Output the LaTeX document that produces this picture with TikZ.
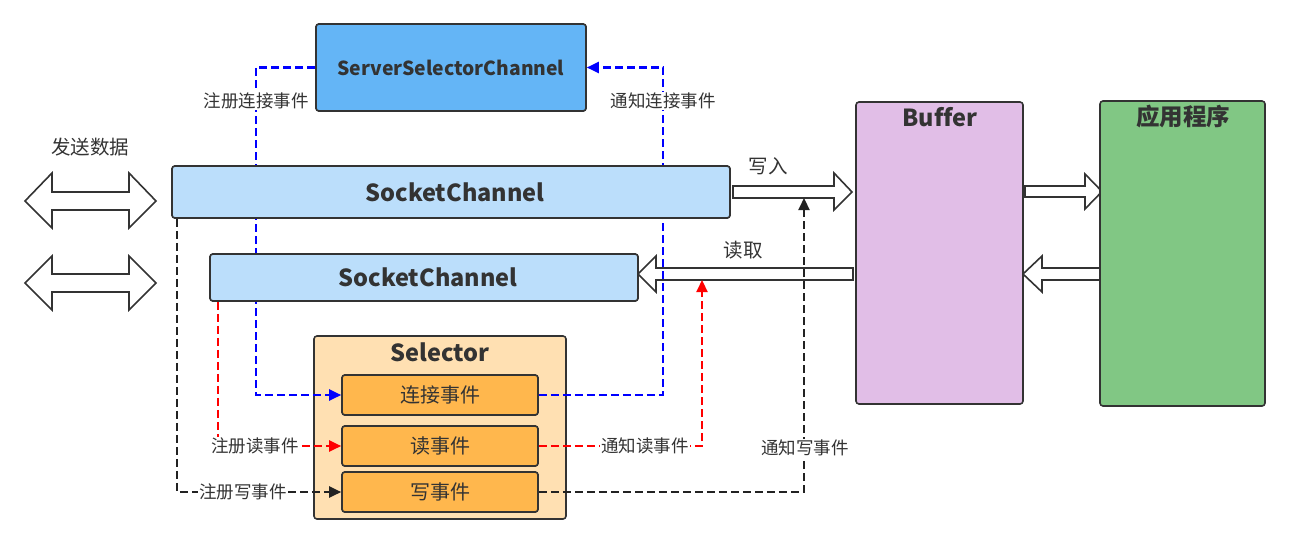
\documentclass[tikz,border=0pt]{standalone}
\usepackage{fontspec}
\setmainfont{Noto Sans CJK SC}
\usetikzlibrary{arrows.meta}
\definecolor{ink}{HTML}{333333}
\definecolor{sscfill}{HTML}{64B5F6}
\definecolor{scfill}{HTML}{BBDEFB}
\definecolor{selfill}{HTML}{FFE0B2}
\definecolor{evfill}{HTML}{FFB74D}
\definecolor{buffill}{HTML}{E1BEE7}
\definecolor{appfill}{HTML}{81C784}
\definecolor{lblue}{HTML}{0000FF}
\definecolor{lred}{HTML}{FF0000}
\definecolor{lblack}{HTML}{222222}
\tikzset{
  box/.style={draw=ink, line width=1.6pt, rounded corners=3pt, inner sep=0pt, text=ink},
  hollow/.style={draw=ink, line width=1.6pt, fill=white, line join=miter},
  conn/.style={line width=2.2pt, dash pattern=on 8pt off 4pt, -{Triangle[length=12pt,width=11pt]}},
  lbl/.style={fill=white, inner sep=1pt, text=ink, font=\fontsize{17.5}{20}\selectfont},
  biglbl/.style={inner sep=1pt, text=ink, font=\fontsize{19.5}{22}\selectfont},
  titlefont/.style={text=ink, font=\bfseries\fontsize{23.5}{26}\selectfont},
}
\begin{document}
\begin{tikzpicture}[x=1pt,y=-1pt]
\useasboundingbox (0,0) rectangle (1290,544);

% hollow arrows
\draw[hollow] (25,201) -- (52,173) -- (52,192) -- (129,192) -- (129,173) -- (156,201) -- (129,228) -- (129,210) -- (52,210) -- (52,228) -- cycle;
\draw[hollow] (25,283) -- (52,256) -- (52,274) -- (129,274) -- (129,256) -- (156,283) -- (129,310) -- (129,292) -- (52,292) -- (52,310) -- cycle;
\draw[hollow] (733,186) -- (834,186) -- (834,173) -- (852,192) -- (834,210) -- (834,198) -- (733,198) -- cycle;
\draw[hollow] (638,274) -- (656,256) -- (656,268) -- (853,268) -- (853,280) -- (656,280) -- (656,292) -- cycle;
\draw[hollow] (1025,186) -- (1085,186) -- (1085,174) -- (1102,191.5) -- (1085,209) -- (1085,197) -- (1025,197) -- cycle;
\draw[hollow] (1023,274) -- (1042,256) -- (1042,268) -- (1100,268) -- (1100,280) -- (1042,280) -- (1042,292) -- cycle;
\coordinate (wrtarget) at (804,198);
\coordinate (rdtarget) at (702,280);

% Selector container (below connectors)
\node[box, fill=selfill, minimum width=252pt, minimum height=183pt] (sel) at (440,427.5) {};
\node[titlefont] (seltitle) at (440,352) {Selector};

% boxes (named first, redrawn after connectors)
\path (451,67.5) node[box, fill=sscfill, minimum width=270pt, minimum height=87pt] (ssc) {};
\path (451,192) node[box, fill=scfill, minimum width=558pt, minimum height=52pt] (sc1) {};
\path (424,277.5) node[box, fill=scfill, minimum width=428pt, minimum height=47pt] (sc2) {};
\path (440,395) node[box, fill=evfill, minimum width=196pt, minimum height=40pt] (lj) {};
\path (440,446) node[box, fill=evfill, minimum width=196pt, minimum height=40pt] (rd) {};
\path (440,492) node[box, fill=evfill, minimum width=196pt, minimum height=40pt] (wr) {};

% connectors
\coordinate (bx) at (256,0);
\coordinate (bnx) at (663,0);
\coordinate (rx) at (218,0);
\coordinate (kx) at (177,0);
\draw[conn, lblue] (ssc.west) -| (bx |- lj.west) -- (lj.west);
\draw[conn, lblue] (lj.east) -| (bnx |- ssc.east) -- (ssc.east);
\draw[conn, lred] (rx |- sc2.south) -- (rx |- rd.west) -- (rd.west);
\draw[conn, lred] (rd.east) -| (rdtarget);
\draw[conn, lblack] (kx |- sc1.south) -- (kx |- wr.west) -- (wr.west);
\draw[conn, lblack] (wr.east) -| (wrtarget);

% redraw boxes on top of connectors
\path (451,67.5) node[box, fill=sscfill, minimum width=270pt, minimum height=87pt] {\bfseries\fontsize{19.3}{22}\selectfont ServerSelectorChannel};
\path (451,192) node[box, fill=scfill, minimum width=558pt, minimum height=52pt] {\hspace*{8pt}\bfseries\fontsize{23.5}{26}\selectfont SocketChannel};
\path (424,277.5) node[box, fill=scfill, minimum width=428pt, minimum height=47pt] {\hspace*{8pt}\bfseries\fontsize{23.5}{26}\selectfont SocketChannel};
\path (440,395) node[box, fill=evfill, minimum width=196pt, minimum height=40pt] {\fontsize{20}{22}\selectfont 连接事件};
\path (440,446) node[box, fill=evfill, minimum width=196pt, minimum height=40pt] {\fontsize{20}{22}\selectfont 读事件};
\path (440,492) node[box, fill=evfill, minimum width=196pt, minimum height=40pt] {\fontsize{20}{22}\selectfont 写事件};

\node[box, fill=buffill, minimum width=167pt, minimum height=302pt] (buf) at (939.5,253) {};
\node[box, fill=appfill, minimum width=165pt, minimum height=305pt] (app) at (1182.5,253.5) {};
\node[titlefont] (buftitle) at (940,117) {Buf\kern0ptf\kern0pter};
\node[titlefont] (apptitle) at (1183,117) {应用程序};

% labels
\node[lbl] (l1) at (256,101) {注册连接事件};
\node[lbl] (l2) at (663,101) {通知连接事件};
\node[lbl] (l3) at (255,446) {注册读事件};
\node[lbl] (l4) at (645,446) {通知读事件};
\node[lbl] (l5) at (243,492) {注册写事件};
\node[lbl] (l6) at (805,448) {通知写事件};
\node[biglbl] (l7) at (90,147) {发送数据};
\node[biglbl] (l8) at (768,166) {写入};
\node[biglbl] (l9) at (743,250) {读取};
\end{tikzpicture}
\end{document}
